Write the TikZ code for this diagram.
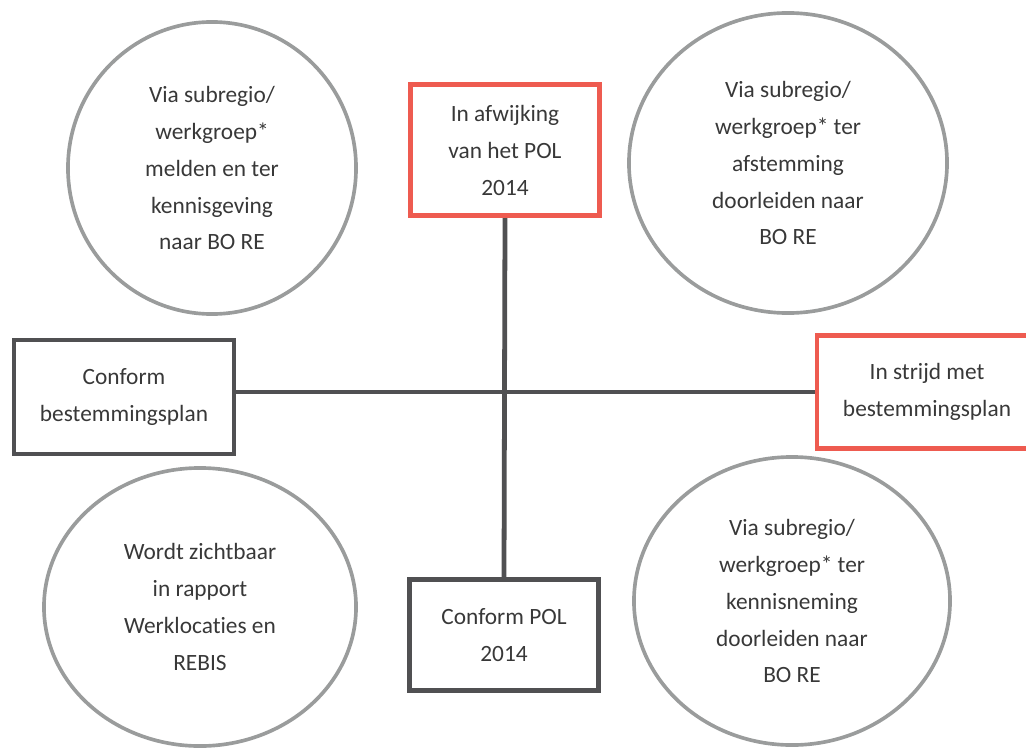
\documentclass[tikz,border=0pt]{standalone}
\usepackage{fontspec}
\setmainfont[Ligatures=NoCommon]{Carlito}
\usepackage{xcolor}
\usetikzlibrary{shapes.geometric,positioning}
\definecolor{rood}{HTML}{EE5B50}
\definecolor{grijs}{HTML}{9A9C9C}
\definecolor{donker}{HTML}{505052}
\definecolor{tekst}{HTML}{383838}
\begin{document}
\begin{tikzpicture}[x=0.025cm,y=-0.025cm,
                every node/.append style = {align=center, text=tekst, font=\fontsize{16.6}{26.3}\selectfont},
                kring/.style = {draw=grijs, line width=2.6pt, ellipse, inner sep=0pt},
                vak/.style = {draw=donker, line width=3.4pt, rectangle, inner sep=0pt},
                roodvak/.style = {vak, draw=rood},
                lijn/.style = {donker, line width=3.4pt}]
            \clip (0,0) rectangle (1026,749);
            % kringen
            \node[kring, minimum width=7.2cm, minimum height=7.3cm] (lb) at (212,168)
                {Via subregio/\\werkgroep*\\melden en ter\\kennisgeving\\naar BO RE};
            \node[kring, minimum width=7.95cm, minimum height=7.5cm] (rb) at (788,163)
                {Via subregio/\\werkgroep* ter\\afstemming\\doorleiden naar\\BO RE};
            \node[kring, minimum width=7.8cm, minimum height=6.95cm] (lo) at (200,607)
                {Wordt zichtbaar\\in rapport\\Werklocaties en\\REBIS};
            \node[kring, minimum width=7.9cm, minimum height=7.2cm] (ro) at (792,601)
                {Via subregio/\\werkgroep* ter\\kennisneming\\doorleiden naar\\BO RE};
            % vakken
            \node[roodvak, minimum width=4.72cm, minimum height=3.28cm] (boven) at (505,150)
                {In afwijking\\van het POL\\2014};
            \node[vak, minimum width=5.5cm, minimum height=2.85cm] (links) at (124,397)
                {Conform\\bestemmingsplan};
            \node[roodvak, minimum width=5.5cm, minimum height=2.83cm] (rechts) at (927,392)
                {In strijd met\\bestemmingsplan};
            \node[vak, minimum width=4.72cm, minimum height=2.78cm] (onder) at (504,635)
                {Conform POL\\2014};
            % assen
            \draw[lijn] (links.east |- rechts.west) -- (rechts.west);
            \draw[lijn] (boven.south) -- (onder.north);
\end{tikzpicture}
\end{document}
